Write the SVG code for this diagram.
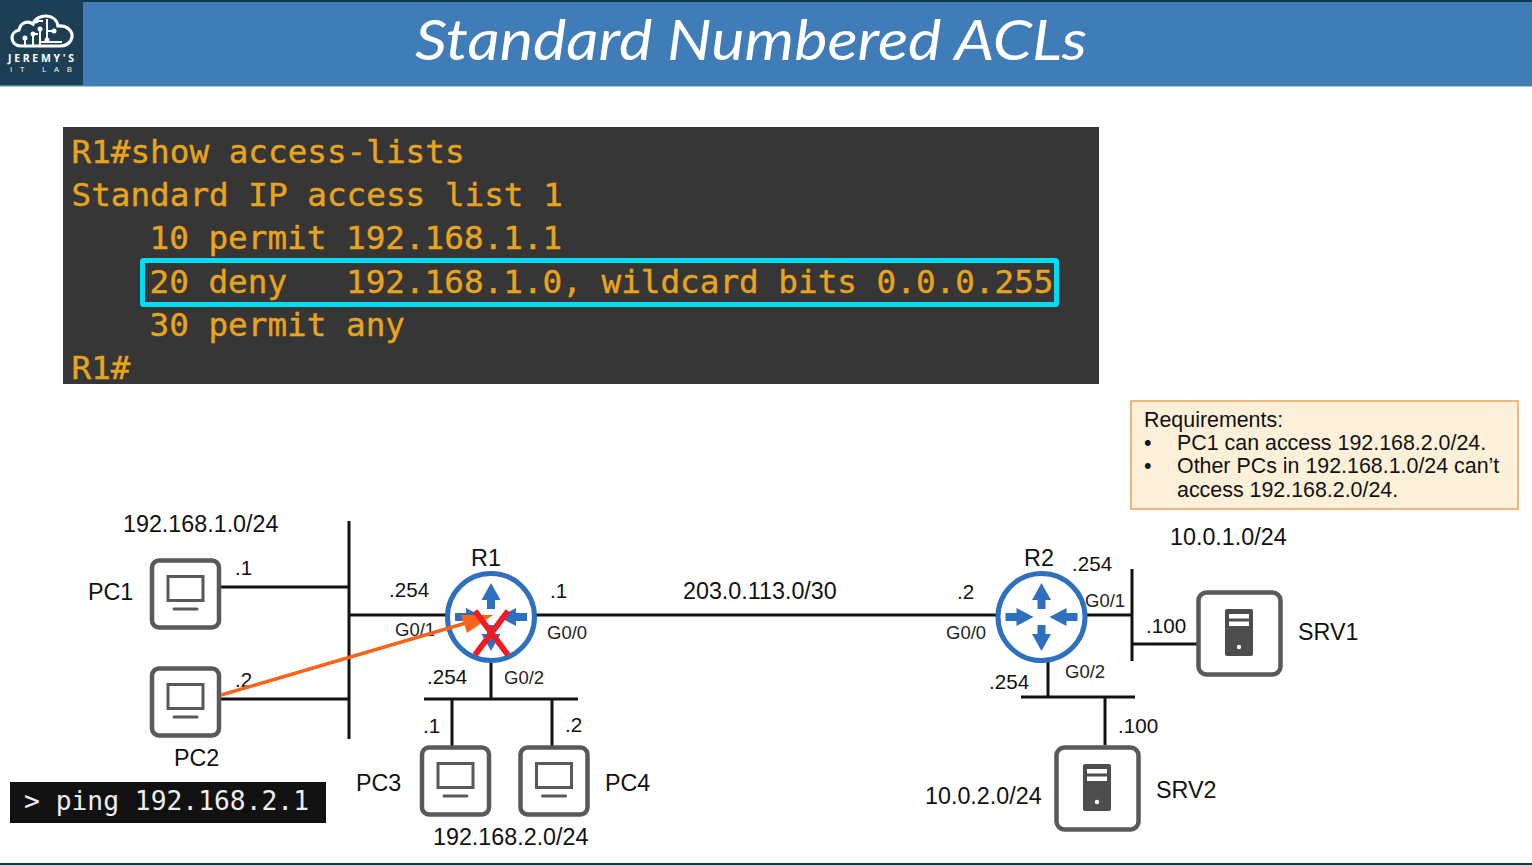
<svg xmlns="http://www.w3.org/2000/svg" width="1532" height="865" viewBox="0 0 1532 865">
<style>
text{font-family:"Liberation Sans",Arial,sans-serif;fill:#111}
.l{font-size:23.3px}
.d{font-size:20.6px}
.r{font-size:21.4px}
.s{font-size:18.5px;fill:#222}
.t{font-family:"DejaVu Sans Mono","Liberation Mono",monospace;font-size:32.65px;fill:#e8a41e;stroke:#e8a41e;stroke-width:.4;white-space:pre}
.w{fill:none;stroke:#111;stroke-width:3}
.box{fill:#fff;stroke:#595959;stroke-width:4.5}
.gl{fill:none;stroke:#595959;stroke-width:3}
.ic{fill:#4d4d4d}
.ra{fill:#2f6fc0}
</style>
<defs>
<g id="pc">
<rect class="box" x="-33" y="-33" width="67" height="67" rx="7"/>
<rect class="gl" x="-17" y="-17" width="35" height="24"/>
<path d="M-11 15.500H12" stroke="#595959" stroke-width="3" stroke-linecap="round"/>
</g>
<g id="srv">
<rect class="box" x="-40.500" y="-40.500" width="82" height="82" rx="8"/>
<rect class="ic" x="-14" y="-24" width="28" height="47" rx="2"/>
<rect x="-10" y="-19" width="20" height="4.500" fill="#fff"/>
<rect x="-10" y="-11.500" width="20" height="4.500" fill="#fff"/>
<circle cx="0" cy="14" r="2.200" fill="#fff"/>
</g>
<g id="router">
<circle r="43.500" fill="#fff" stroke="#2f6fc0" stroke-width="5"/>
<path class="ra" d="M0-34 9.500-17 4-17 4-8-4-8-4-17-9.500-17Z"/>
<path class="ra" d="M0 34 9.500 17 4 17 4 8-4 8-4 17-9.500 17Z"/>
<path class="ra" d="M-8 0-25-9-25-4-36-4-36 4-25 4-25 9Z"/>
<path class="ra" d="M8 0 25-9 25-4 36-4 36 4 25 4 25 9Z"/>
</g>
</defs>
<rect width="1532" height="865" fill="#fff"/>
<g id="header">
<rect width="1532" height="86" fill="#3f7cb8"/>
<rect width="1532" height="2" fill="#123a4e"/>
<rect y="85" width="1532" height="1.500" fill="#3a8f9a"/>
<rect width="83" height="85" fill="#1d3f56"/>
<path d="M21 46C10 46 9 32 19 30 21 21 29 21 33 24 37 13 56 13 58 26 67 25 75 32 71 40 69 44 66 46 60 46Z" fill="none" stroke="#fff" stroke-width="3.200"/>
<path d="M25 45V38M33 45V34H38M40 45V29M40 42H62M47 42V19M38 21H43M47 31H54" fill="none" stroke="#fff" stroke-width="2"/>
<circle cx="25" cy="38" r="2.500" fill="#fff"/><circle cx="33" cy="34" r="2.500" fill="#fff"/><circle cx="40" cy="29" r="2.500" fill="#fff"/><circle cx="36" cy="21" r="2.500" fill="#fff"/><circle cx="54" cy="31" r="2.500" fill="#fff"/><circle cx="47" cy="40" r="2.500" fill="#fff"/>
<text x="41" y="62" text-anchor="middle" style="fill:#fff;font-size:10.500px;font-weight:700;font-family:'Open Sans',sans-serif" textLength="66">JEREMY'S</text>
<text x="41" y="71.500" text-anchor="middle" style="fill:#fff;font-size:8px;font-family:'Open Sans',sans-serif" textLength="62">IT LAB</text>
<text x="415" y="60" style="fill:#fff;font-family:'Lato',sans-serif;font-style:italic;font-size:56px" textLength="672" lengthAdjust="spacingAndGlyphs">Standard Numbered ACLs</text>
</g>
<g id="terminal">
<rect x="63" y="127" width="1036" height="257" fill="#363636"/>
<text class="t" x="71.500" y="163">R1#show access-lists</text>
<text class="t" x="71.500" y="206">Standard IP access list 1</text>
<text class="t" x="149.500" y="249">10 permit 192.168.1.1</text>
<text class="t" x="149.500" y="293">20 deny   192.168.1.0, wildcard bits 0.0.0.255</text>
<text class="t" x="149.500" y="336">30 permit any</text>
<text class="t" x="71.500" y="379">R1#</text>
<rect x="142.500" y="260.500" width="914" height="44" fill="none" stroke="#00dcf5" stroke-width="5" rx="1"/>
</g>
<g id="requirements">
<rect x="1131" y="401" width="387" height="108" fill="#fdf0d8" stroke="#e8a35a" stroke-width="1.500"/>
<text class="r" x="1144" y="427">Requirements:</text>
<text class="r" x="1144" y="450">•</text>
<text class="r" x="1177" y="450">PC1 can access 192.168.2.0/24.</text>
<text class="r" x="1144" y="473">•</text>
<text class="r" x="1177" y="473">Other PCs in 192.168.1.0/24 can’t</text>
<text class="r" x="1177" y="497">access 192.168.2.0/24.</text>
</g>
<g id="connectors">
<path class="w" d="M349 521V739M220 587H349M220 699H349M349 615H446M536 615H997M491 662V699M424 699H578M452 699V746M552 699V746"/>
<path class="w" d="M1087 615H1132M1132 569V661M1132 644H1197M1048 662V697M1021 697H1135M1105 697V745"/>
</g>
<g id="R1">
<use href="#router" x="491" y="617"/>
<text class="l" x="486" y="566" text-anchor="middle">R1</text>
</g>
<g id="R2">
<use href="#router" x="1041.500" y="617"/>
<text class="l" x="1039" y="566" text-anchor="middle">R2</text>
</g>
<g id="PC1"><use href="#pc" x="185" y="593.500"/><text class="l" x="88" y="600">PC1</text></g>
<g id="PC2"><use href="#pc" x="185" y="701.500"/><text class="l" x="174" y="766">PC2</text></g>
<g id="PC3"><use href="#pc" x="455" y="780.500"/><text class="l" x="356" y="791">PC3</text></g>
<g id="PC4"><use href="#pc" x="553.500" y="780.500"/><text class="l" x="605" y="791">PC4</text></g>
<g id="SRV1"><use href="#srv" x="1239" y="633"/><text class="l" x="1298" y="640">SRV1</text></g>
<g id="SRV2"><use href="#srv" x="1097" y="788"/><text class="l" x="1156" y="798">SRV2</text></g>
<g id="labels">
<text class="l" x="123" y="532">192.168.1.0/24</text>
<text class="d" x="235" y="575">.1</text>
<text class="d" x="235" y="687">.2</text>
<text class="d" x="389" y="597">.254</text>
<text class="s" x="395" y="636">G0/1</text>
<text class="d" x="550" y="598">.1</text>
<text class="s" x="547" y="639">G0/0</text>
<text class="d" x="427" y="684">.254</text>
<text class="s" x="504" y="684">G0/2</text>
<text class="d" x="423" y="733">.1</text>
<text class="d" x="565" y="732">.2</text>
<text class="l" x="433" y="845">192.168.2.0/24</text>
<text class="l" x="683" y="599">203.0.113.0/30</text>
<text class="d" x="957" y="599">.2</text>
<text class="s" x="946" y="639">G0/0</text>
<text class="d" x="1072" y="571">.254</text>
<text class="s" x="1085" y="607">G0/1</text>
<text class="d" x="1146" y="633">.100</text>
<text class="l" x="1170" y="545">10.0.1.0/24</text>
<text class="d" x="989" y="689">.254</text>
<text class="s" x="1065" y="678">G0/2</text>
<text class="d" x="1118" y="733">.100</text>
<text class="l" x="925" y="804">10.0.2.0/24</text>
</g>
<g id="traffic">
<path d="M221 695 466 623" stroke="#f9641a" stroke-width="3.500" fill="none"/>
<path d="M461 615 493 615 467 633Z" fill="#f9641a"/>
<path d="M475 611 508 655M508 611 475 655" stroke="#ee1c24" stroke-width="6" fill="none"/>
</g>
<g id="ping">
<rect x="10" y="782" width="316" height="41" fill="#111"/>
<text x="24" y="810" style="fill:#eee;font-family:'DejaVu Sans Mono',monospace;font-size:26.300px;white-space:pre">&gt; ping 192.168.2.1</text>
</g>
<rect id="bottom-rule" y="863" width="1532" height="2" fill="#123a4e"/>
</svg>
